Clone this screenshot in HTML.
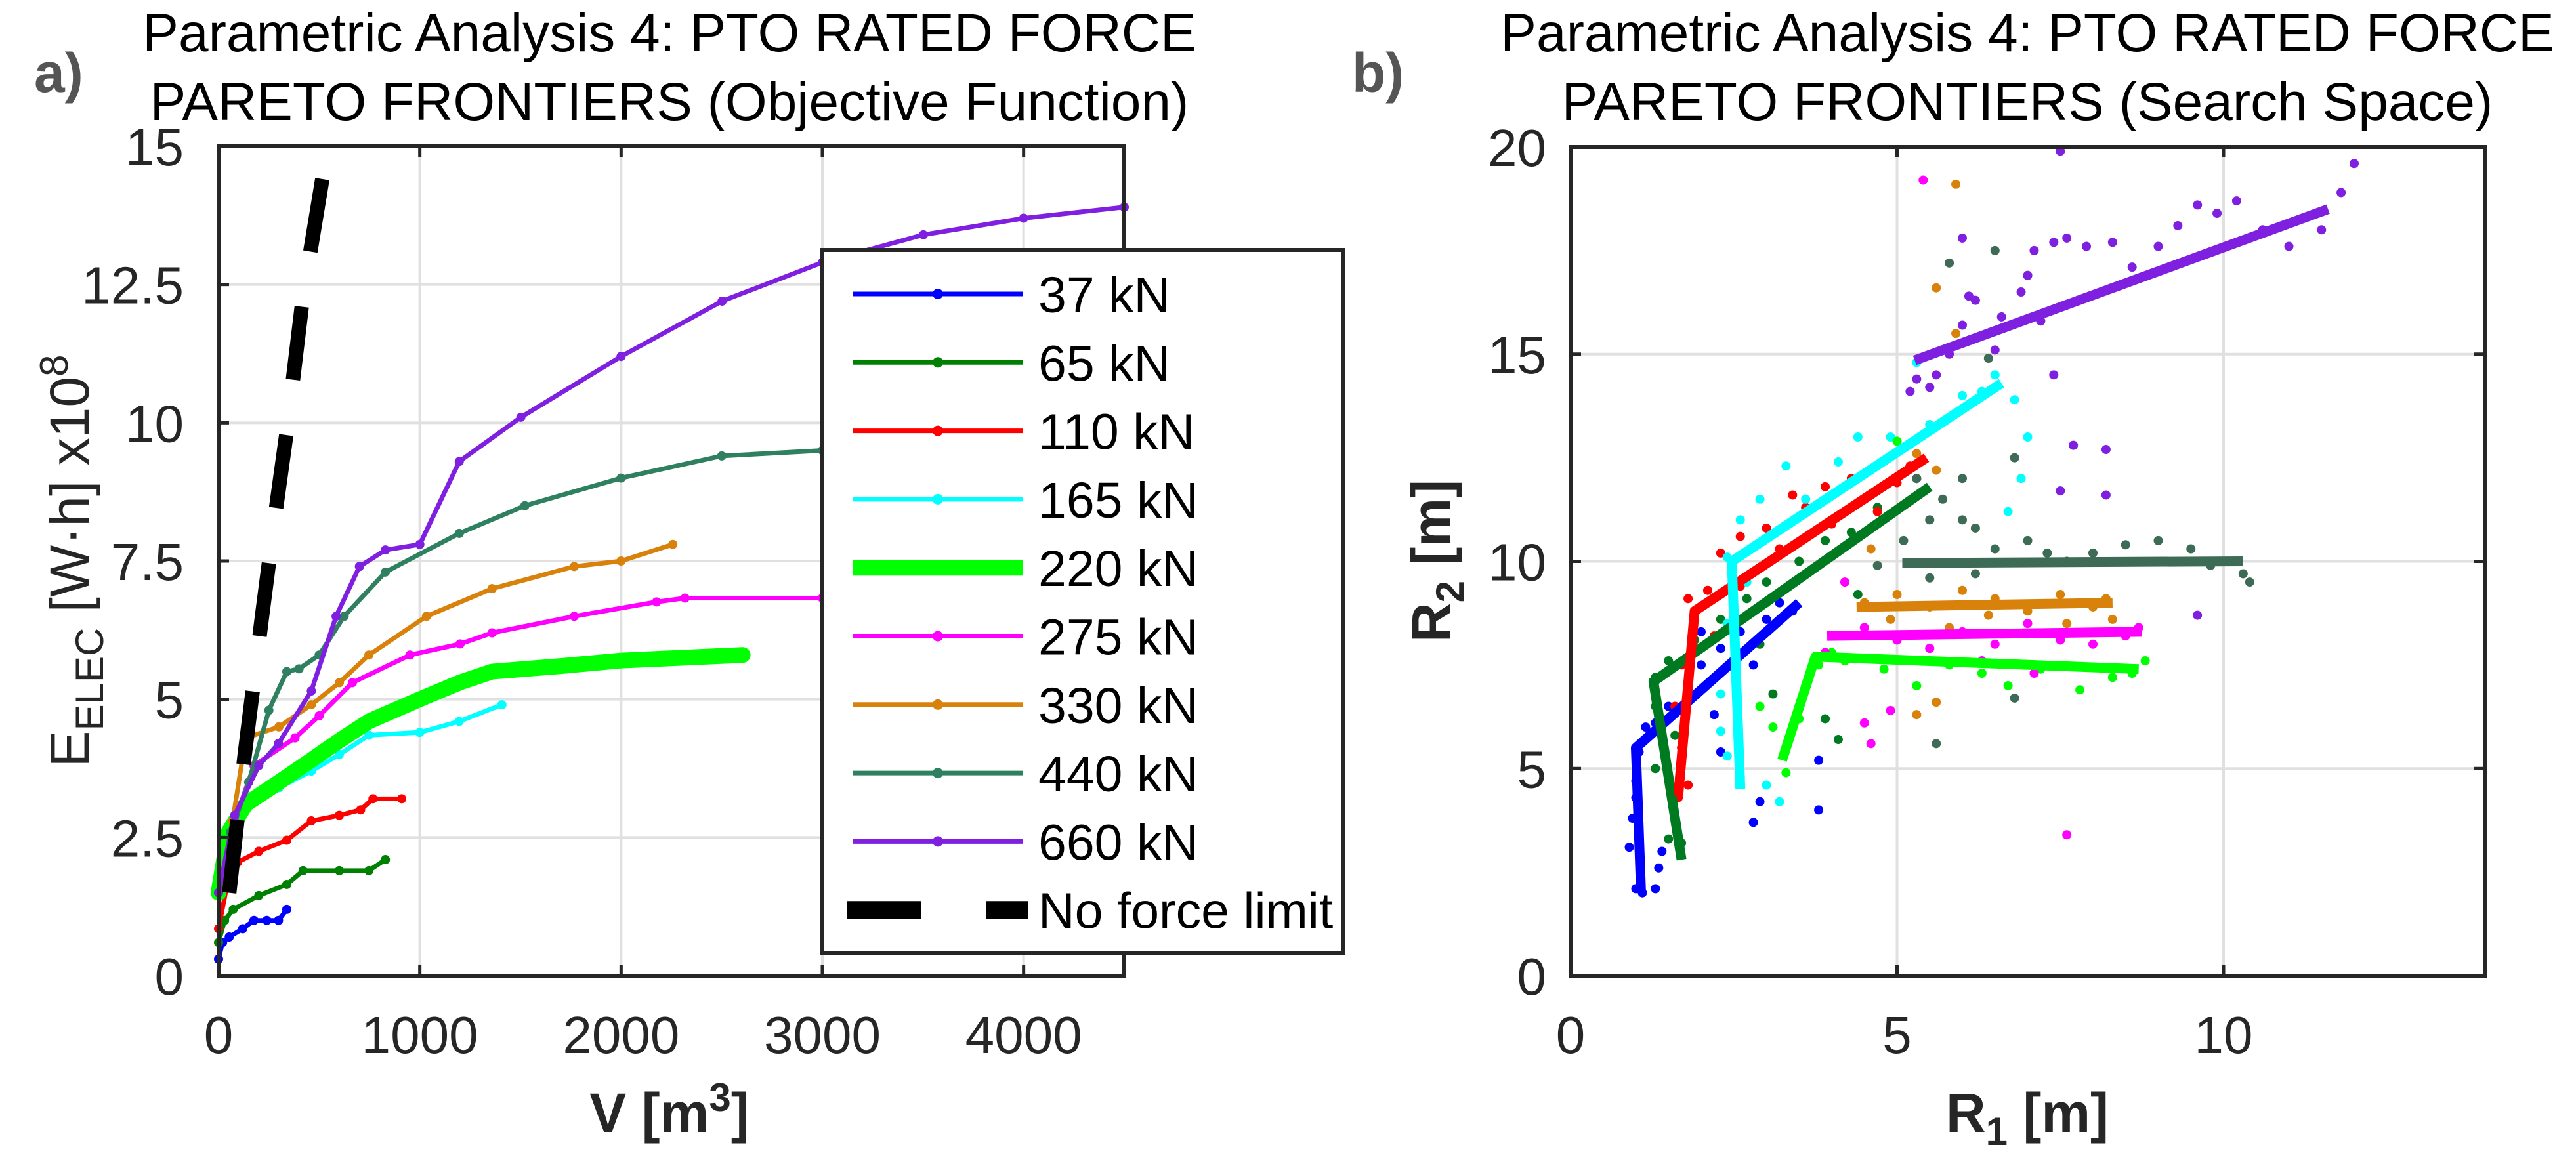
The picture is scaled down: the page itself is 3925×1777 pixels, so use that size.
<!DOCTYPE html>
<html><head><meta charset="utf-8"><style>
html,body{margin:0;padding:0;background:#fff;}
svg{display:block;font-family:"Liberation Sans",Arial,sans-serif;}
</style></head><body>
<svg id="fig" width="3925" height="1777" viewBox="0 0 3925 1777" xmlns="http://www.w3.org/2000/svg">
<rect width="3925" height="1777" fill="#fff"/>
<text x="52" y="140" font-size="84" font-weight="bold" fill="#555">a)</text>
<text x="2060" y="140" font-size="84" font-weight="bold" fill="#555">b)</text>
<text x="1020" y="78" font-size="82" text-anchor="middle">Parametric Analysis 4: PTO RATED FORCE</text>
<text x="1020" y="183" font-size="82" text-anchor="middle">PARETO FRONTIERS (Objective Function)</text>
<text x="3089" y="78" font-size="82" text-anchor="middle">Parametric Analysis 4: PTO RATED FORCE</text>
<text x="3089" y="183" font-size="82" text-anchor="middle">PARETO FRONTIERS (Search Space)</text>
<g id="left"></g>
<g id="right"></g>
<text transform="translate(135,855) rotate(-90)" font-size="84" text-anchor="middle" fill="#262626">E<tspan font-size="60" dy="22">ELEC</tspan><tspan dy="-22"> [W·h] x10</tspan><tspan font-size="60" dy="-32">8</tspan></text>
<text x="1020" y="1725" font-size="84" font-weight="bold" text-anchor="middle" fill="#262626">V [m<tspan font-size="60" dy="-32">3</tspan><tspan dy="32">]</tspan></text>
<text transform="translate(2210,855) rotate(-90)" font-size="84" font-weight="bold" text-anchor="middle" fill="#262626">R<tspan font-size="60" dy="20">2</tspan><tspan dy="-20"> [m]</tspan></text>
<text x="3089" y="1725" font-size="84" font-weight="bold" text-anchor="middle" fill="#262626">R<tspan font-size="60" dy="20">1</tspan><tspan dy="-20"> [m]</tspan></text>
</svg>
<script>
// ---------- Left chart data ----------
const seriesNames = ["37 kN","65 kN","110 kN","165 kN","220 kN","275 kN","330 kN","440 kN","660 kN"];
const seriesColors = ["#0000ff","#008000","#ff0000","#00ffff","#00ff00","#ff00ff","#d9820b","#2f8060","#7f1fe0"];
const xTicksL = [0,1000,2000,3000,4000];
const yTicksL = [0,2.5,5,7.5,10,12.5,15];
const yTickLabelsL = ["0","2.5","5","7.5","10","12.5","15"];
const v37 = [0,20,53,120,176,240,298,339];
const e37 = [0.3,0.6,0.7,0.85,1.0,1.0,1.0,1.2];
const v65 = [0,30,73,200,339,420,600,747,829];
const e65 = [0.6,1.0,1.2,1.45,1.65,1.9,1.9,1.9,2.1];
const v110 = [0,40,94,200,339,461,600,706,767,910];
const e110 = [0.85,1.6,2.05,2.25,2.45,2.8,2.9,3.0,3.2,3.2];
const v165 = [0,60,135,300,461,600,747,1000,1196,1408];
const e165 = [1.5,2.6,3.1,3.4,3.7,4.0,4.35,4.4,4.6,4.9];
const v220 = [0,50,135,300,461,600,747,1000,1196,1359,1700,2000,2300,2604];
const e220 = [1.5,2.6,3.1,3.5,3.9,4.25,4.6,5.0,5.3,5.5,5.6,5.7,5.75,5.8];
const v275 = [0,80,176,380,500,665,951,1200,1359,1767,2176,2318,3000];
const e275 = [1.5,2.8,3.8,4.3,4.7,5.3,5.8,6.0,6.2,6.5,6.76,6.83,6.83];
const v330 = [0,70,135,300,461,600,747,1033,1359,1767,2000,2257];
const e330 = [1.5,2.8,4.3,4.5,4.9,5.3,5.8,6.5,7.0,7.4,7.5,7.8];
const v440 = [0,60,150,250,339,400,500,624,829,1196,1522,2000,2500,3000,3300];
const e440 = [1.5,2.6,3.5,4.8,5.5,5.55,5.8,6.5,7.3,8.0,8.5,9.0,9.4,9.5,9.6];
const v660 = [0,80,200,298,461,584,700,829,1000,1196,1502,2000,2502,3000,3502,4000,4500];
const e660 = [1.5,2.9,3.8,4.2,5.15,6.5,7.4,7.7,7.8,9.3,10.1,11.2,12.2,12.9,13.4,13.7,13.9];
const vNoLim = [53,130,216,280,339,420,522];
const eNoLim = [1.5,4.0,6.5,8.3,9.85,12.3,14.55];

// ---------- Right chart data ----------
const xTicksR = [0,5,10];
const yTicksR = [0,5,10,15,20];
const front37 = [[1.08,2.0],[1.0,5.5],[3.5,9.0]];
const front65 = [[1.7,2.8],[1.27,7.1],[5.5,11.8]];
const front110 = [[1.65,4.35],[1.9,8.8],[5.45,12.5]];
const front165 = [[2.6,4.5],[2.47,10.0],[6.6,14.3]];
const front220 = [[3.24,5.2],[3.75,7.7],[8.7,7.4]];
const front275 = [[3.93,8.2],[8.75,8.3]];
const front330 = [[4.38,8.9],[8.3,9.0]];
const front440 = [[5.08,9.96],[10.3,10.0]];
const front660 = [[5.27,14.85],[11.6,18.5]];
const pts37 = [[1.0,2.1],[1.1,2.0],[1.3,2.1],[1.35,2.6],[1.4,3.0],[0.9,3.1],[0.95,3.8],[1.0,4.3],[1.0,4.7],[1.05,5.4],[1.15,6.0],[1.3,6.1],[1.5,6.5],[1.8,7.0],[2.0,7.5],[2.3,7.9],[2.6,8.3],[3.0,8.6],[3.2,9.0],[3.4,8.8],[2.2,6.3],[2.3,5.4],[2.9,4.2],[2.8,3.7],[3.8,4.0],[3.8,5.2],[2.0,8.3],[2.8,7.5]];
const pts65 = [[1.3,7.2],[1.5,7.6],[1.9,8.1],[2.3,8.6],[2.7,9.1],[3.0,9.5],[3.5,10.0],[3.9,10.5],[4.3,10.7],[4.7,11.3],[5.3,12.0],[1.3,6.5],[1.3,5.0],[1.5,3.3],[1.7,3.2],[3.1,6.8],[3.5,6.5],[3.9,6.2],[4.1,5.7],[1.6,5.8],[2.9,8.0],[4.4,9.2]];
const pts110 = [[1.8,9.1],[2.1,9.3],[2.3,10.2],[2.6,10.6],[3.0,10.8],[3.4,11.6],[3.9,11.8],[4.3,12.0],[4.7,11.2],[5.0,11.9],[5.2,12.3],[1.7,7.5],[1.6,6.5],[1.7,5.5],[1.65,4.3],[1.8,4.6],[2.2,8.2],[2.6,9.4],[4.0,10.9],[4.5,11.5],[3.2,10.3],[3.6,11.3]];
const pts165 = [[2.4,10.1],[2.6,11.0],[2.9,11.5],[3.3,12.3],[3.6,11.5],[4.1,12.4],[4.4,13.0],[4.9,13.0],[5.5,13.3],[6.0,14.0],[6.5,14.5],[6.8,13.9],[7.0,13.0],[6.9,12.0],[6.7,11.2],[2.3,9.2],[2.4,8.5],[2.3,6.8],[2.3,5.9],[2.4,5.3],[2.6,4.8],[3.2,4.2],[3.0,4.6],[5.3,14.8],[6.3,14.1],[2.7,9.5]];
const pts220 = [[3.3,5.5],[3.5,6.2],[3.6,7.0],[3.8,7.5],[4.2,7.6],[4.8,7.4],[5.3,7.0],[5.8,7.5],[6.3,7.3],[6.7,7.0],[7.2,7.4],[7.8,6.9],[8.3,7.2],[8.6,7.3],[8.8,7.6],[3.1,6.0],[2.9,6.5],[4.0,7.8],[2.5,8.3],[3.0,9.0],[5.0,12.9],[3.3,4.9]];
const pts275 = [[4.0,8.2],[4.5,8.4],[5.0,8.1],[5.5,7.9],[6.0,8.3],[6.5,8.0],[7.0,8.5],[7.5,8.1],[8.0,8.0],[8.5,8.2],[8.7,8.4],[4.6,5.6],[4.5,6.1],[4.9,6.4],[4.2,9.5],[5.4,19.2],[7.6,3.4],[6.3,7.6],[7.1,7.3],[3.9,7.8]];
const pts330 = [[4.5,9.0],[5.0,9.2],[5.5,8.9],[6.0,9.3],[6.5,9.1],[7.0,8.8],[7.5,9.2],[8.0,8.9],[8.2,9.1],[8.3,8.6],[4.9,8.6],[5.8,8.4],[6.4,8.7],[5.3,6.3],[5.6,6.6],[5.3,12.6],[5.6,16.6],[5.9,19.1],[5.9,15.5],[5.6,12.2],[4.6,10.3],[7.6,8.5]];
const pts440 = [[5.1,10.5],[5.5,11.0],[5.7,11.5],[6.0,11.0],[6.5,10.3],[7.0,10.5],[7.3,10.2],[7.6,10.0],[8.0,10.2],[8.5,10.4],[9.0,10.5],[9.5,10.3],[10.0,10.0],[10.3,9.7],[10.4,9.5],[9.8,9.9],[6.2,9.7],[5.5,9.6],[6.8,12.5],[6.0,12.0],[5.8,17.2],[6.5,17.5],[7.0,16.9],[6.4,14.9],[6.8,6.7],[5.6,5.6],[4.7,9.9],[5.3,12.0],[6.2,10.8]];
const pts660 = [[5.5,14.2],[5.3,14.4],[5.6,14.5],[5.8,15.0],[6.0,15.7],[6.2,16.3],[6.6,15.9],[6.9,16.5],[7.1,17.5],[7.4,17.7],[7.6,17.8],[7.9,17.6],[8.3,17.7],[8.6,17.1],[9.0,17.6],[9.3,18.1],[9.6,18.6],[9.9,18.4],[10.2,18.7],[10.6,18.0],[11.0,17.6],[11.5,18.0],[11.8,18.9],[12.0,19.6],[7.5,19.9],[6.0,17.8],[6.5,15.1],[7.2,15.8],[7.4,14.5],[5.2,14.1],[7.7,12.8],[8.2,12.7],[8.2,11.6],[7.5,11.7],[9.6,8.7],[6.1,16.4],[7.0,16.9]];

const NS = "http://www.w3.org/2000/svg";
function mk(parent, tag, attrs){ const e=document.createElementNS(NS,tag); for(const k in attrs) e.setAttribute(k,attrs[k]); parent.appendChild(e); return e; }

// ---------- Left chart ----------
const L = {x0:333,x1:1713,y0:1487,y1:223,xmax:4500,ymax:15};
const lx = v => L.x0 + v/L.xmax*(L.x1-L.x0);
const ly = v => L.y0 - v/L.ymax*(L.y0-L.y1);
const gl = document.getElementById('left');
xTicksL.forEach(t=>{ if(t>0){ const g=mk(gl,'line',{x1:lx(t),x2:lx(t),y1:L.y0,y2:L.y1,stroke:'#e0e0e0','stroke-width':4});

}
 const tl=mk(gl,'text',{x:lx(t),y:1605,'font-size':80,'text-anchor':'middle',fill:'#262626'}); tl.textContent=t;
 
 
});
yTicksL.forEach((t,i)=>{ if(t>0 && t<15){ const g=mk(gl,'line',{x1:L.x0,x2:L.x1,y1:ly(t),y2:ly(t),stroke:'#e0e0e0','stroke-width':4});

}
 const tl=mk(gl,'text',{x:280,y:ly(t)+29,'font-size':80,'text-anchor':'end',fill:'#262626'}); tl.textContent=yTickLabelsL[i];
 
 
});
const vArr=[v37,v65,v110,v165,v220,v275,v330,v440,v660], eArr=[e37,e65,e110,e165,e220,e275,e330,e440,e660];
vArr.forEach((vs,si)=>{
  const pts=vs.map((v,i)=>lx(v)+','+ly(eArr[si][i])).join(' ');
  const w = si===4?24:7;
  const pl=mk(gl,'polyline',{points:pts,fill:'none',stroke:seriesColors[si],'stroke-width':w,'stroke-linejoin':'round','stroke-linecap':'round'});
  
  
  if(si!==4){ vs.forEach((v,i)=>{ const c=mk(gl,'circle',{cx:lx(v),cy:ly(eArr[si][i]),r:7,fill:seriesColors[si]});
    
     }); }
});
const nl=mk(gl,'polyline',{points:vNoLim.map((v,i)=>lx(v)+','+ly(eNoLim[i])).join(' '),fill:'none',stroke:'#000','stroke-width':22,'stroke-dasharray':'112 85'});


const axL=mk(gl,'rect',{x:L.x0,y:L.y1,width:L.x1-L.x0,height:L.y0-L.y1,fill:'none',stroke:'#262626','stroke-width':6});


xTicksL.forEach(t=>{ mk(gl,'line',{x1:lx(t),x2:lx(t),y1:L.y0,y2:L.y0-16,stroke:'#262626','stroke-width':5}); mk(gl,'line',{x1:lx(t),x2:lx(t),y1:L.y1,y2:L.y1+16,stroke:'#262626','stroke-width':5}); });
yTicksL.forEach(t=>{ mk(gl,'line',{x1:L.x0,x2:L.x0+16,y1:ly(t),y2:ly(t),stroke:'#262626','stroke-width':5}); mk(gl,'line',{x1:L.x1,x2:L.x1-16,y1:ly(t),y2:ly(t),stroke:'#262626','stroke-width':5}); });
// legend
const lg=mk(gl,'g',{});


mk(lg,'rect',{x:1253,y:381,width:794,height:1072,fill:'#fff',stroke:'#262626','stroke-width':6});
const legNames=seriesNames.concat(["No force limit"]);
legNames.forEach((n,i)=>{
  const y=448+i*104.3;
  const ent=mk(lg,'g',{});
  
  
  if(i<9){ mk(ent,'line',{x1:1299,x2:1558,y1:y,y2:y,stroke:seriesColors[i],'stroke-width':i===4?24:7});
    if(i!==4) mk(ent,'circle',{cx:1429,cy:y,r:8,fill:seriesColors[i]}); }
  else { mk(ent,'line',{x1:1291,x2:1567,y1:y,y2:y,stroke:'#000','stroke-width':27,'stroke-dasharray':'112 99'}); }
  const t=mk(ent,'text',{x:1582,y:y+28,'font-size':77,fill:'#000'}); t.textContent=n;
});

// ---------- Right chart ----------
const R = {x0:2393,x1:3786,y0:1487,y1:224,xmax:14,ymax:20};
const rx = v => R.x0 + v/R.xmax*(R.x1-R.x0);
const ry = v => R.y0 - v/R.ymax*(R.y0-R.y1);
const gr=document.getElementById('right');
xTicksR.forEach(t=>{ if(t>0){ const g=mk(gr,'line',{x1:rx(t),x2:rx(t),y1:R.y0,y2:R.y1,stroke:'#e0e0e0','stroke-width':4});

}
 const tl=mk(gr,'text',{x:rx(t),y:1605,'font-size':80,'text-anchor':'middle',fill:'#262626'}); tl.textContent=t;
 
 
});
yTicksR.forEach(t=>{ if(t>0 && t<20){ const g=mk(gr,'line',{x1:R.x0,x2:R.x1,y1:ry(t),y2:ry(t),stroke:'#e0e0e0','stroke-width':4});

}
 const tl=mk(gr,'text',{x:2356,y:ry(t)+29,'font-size':80,'text-anchor':'end',fill:'#262626'}); tl.textContent=t;
 
 
});
const ptsArr=[pts37,pts65,pts110,pts165,pts220,pts275,pts330,pts440,pts660];
const frontArr=[front37,front65,front110,front165,front220,front275,front330,front440,front660];
const scatColors=["#0000ff","#007a20","#ff0000","#00ffff","#00ff00","#ff00ff","#d9820b","#3d6b55","#7f1fe0"];
ptsArr.forEach((ps,si)=>{
  ps.forEach(p=>{ const c=mk(gr,'circle',{cx:rx(p[0]),cy:ry(p[1]),r:7,fill:scatColors[si]});
    
     });
});
frontArr.forEach((f,si)=>{
  const pl=mk(gr,'polyline',{points:f.map(p=>rx(p[0])+','+ry(p[1])).join(' '),fill:'none',stroke:scatColors[si],'stroke-width':15,'stroke-linejoin':'round'});
  
  
});
const axR=mk(gr,'rect',{x:R.x0,y:R.y1,width:R.x1-R.x0,height:R.y0-R.y1,fill:'none',stroke:'#262626','stroke-width':6});


xTicksR.forEach(t=>{ mk(gr,'line',{x1:rx(t),x2:rx(t),y1:R.y0,y2:R.y0-16,stroke:'#262626','stroke-width':5}); mk(gr,'line',{x1:rx(t),x2:rx(t),y1:R.y1,y2:R.y1+16,stroke:'#262626','stroke-width':5}); });
yTicksR.forEach(t=>{ mk(gr,'line',{x1:R.x0,x2:R.x0+16,y1:ry(t),y2:ry(t),stroke:'#262626','stroke-width':5}); mk(gr,'line',{x1:R.x1,x2:R.x1-16,y1:ry(t),y2:ry(t),stroke:'#262626','stroke-width':5}); });
</script>
</body></html>
